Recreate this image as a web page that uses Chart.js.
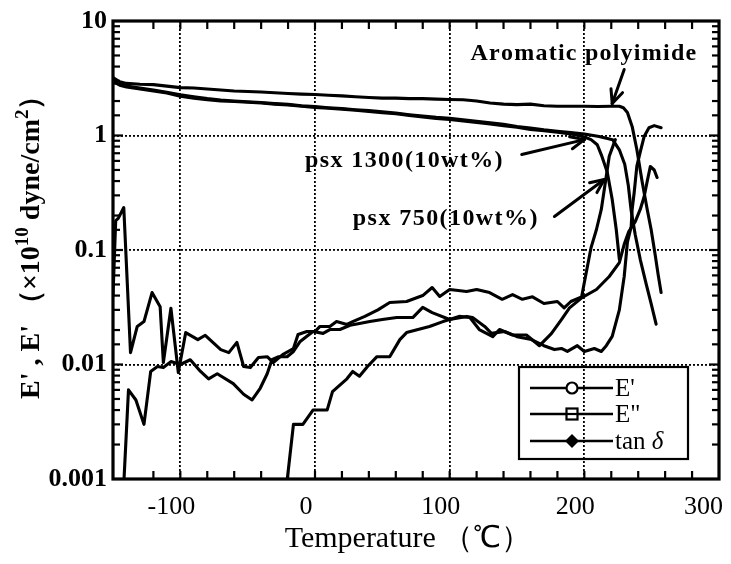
<!DOCTYPE html>
<html><head><meta charset="utf-8">
<script src="https://cdn.jsdelivr.net/npm/chart.js@4.4.0/dist/chart.umd.min.js"></script>
<style>html,body{margin:0;padding:0;background:#fff;}#wrap{width:731px;height:564px;}</style>
</head><body><div id="wrap"><canvas id="c" width="731" height="564"></canvas></div>
<script>
// ---- data (temperature in °C, modulus in 1e10 dyne/cm2) ----
const eStorAromT = [-150,-145,-140,-130,-120,-110,-100,-90,-80,-70,-60,-50,-40,-30,-20,-10,0,10,20,30,40,50,60,70,80,90,100,110,120,130,140,150,160,170,180,190,200,210,220,226,229,232,235.5,239,243,246.7,249.6,252.6,254.8,257];
const eStorArom  = [3.2,2.95,2.85,2.8,2.78,2.7,2.62,2.6,2.55,2.5,2.45,2.42,2.4,2.36,2.33,2.3,2.28,2.25,2.22,2.18,2.15,2.12,2.12,2.1,2.1,2.08,2.06,2.05,2.0,1.92,1.88,1.86,1.88,1.82,1.8,1.8,1.8,1.79,1.8,1.8,1.75,1.59,1.2,0.755,0.39,0.226,0.151,0.091,0.061,0.0425];

const eStor1300T = [-150,-145,-140,-130,-120,-110,-100,-90,-80,-70,-60,-50,-40,-30,-20,-10,0,10,20,30,40,50,60,70,80,90,100,110,120,130,140,150,160,170,180,190,196,201,205,209.6,213,217,220.7,223.7,226];
const eStor1300  = [3.0,2.75,2.65,2.55,2.45,2.35,2.2,2.12,2.05,2.0,1.98,1.95,1.92,1.88,1.85,1.8,1.76,1.73,1.7,1.66,1.62,1.58,1.55,1.5,1.45,1.41,1.38,1.34,1.3,1.26,1.22,1.18,1.13,1.1,1.07,1.03,1.0,0.96,0.92,0.83,0.66,0.48,0.276,0.151,0.083];

const eStor750T = [-150,-145,-140,-130,-120,-110,-100,-90,-80,-70,-60,-50,-40,-30,-20,-10,0,10,20,30,40,50,60,70,80,90,100,110,120,130,140,150,160,170,180,190,200,211,221,226,230,232.6,234.8,237.8,241.5,246,249.6,253.3];
const eStor750  = [2.9,2.8,2.7,2.6,2.5,2.38,2.27,2.18,2.1,2.04,2.0,1.97,1.94,1.9,1.87,1.82,1.79,1.75,1.72,1.68,1.65,1.61,1.57,1.52,1.48,1.44,1.41,1.37,1.33,1.29,1.25,1.2,1.16,1.12,1.09,1.06,1.03,0.98,0.92,0.75,0.56,0.37,0.22,0.136,0.083,0.05,0.034,0.0225];

const eLossPsxT = [-150,-148,-146,-142,-137,-132,-127,-121,-115,-112.6,-107,-101.5,-96,-87,-81.5,-70,-64,-58,-53,-48,-42,-35.5,-31,-24,-16,-12.6,-6,0,3.7,11,16,23.7,28,37,46.7,55.5,68,80,87,92.6,100,112.6,120,129.6,139,146.7,154,161.5,170,180,185,190,198,200,205,209,212.6,218.5,223];
const eLossPsx  = [0.04,0.18,0.19,0.235,0.0127,0.0215,0.0237,0.0425,0.032,0.0104,0.031,0.0085,0.019,0.0165,0.018,0.0135,0.0127,0.0156,0.0096,0.0094,0.0115,0.0117,0.0104,0.0122,0.0138,0.0183,0.0194,0.0194,0.0215,0.0215,0.0237,0.0224,0.0237,0.0263,0.030,0.0348,0.0355,0.040,0.047,0.0393,0.0452,0.0434,0.0452,0.0425,0.0371,0.0408,0.0371,0.039,0.0341,0.0355,0.0312,0.0355,0.039,0.052,0.105,0.151,0.226,0.658,0.92];

const tanPsxT = [-142,-138.5,-133,-127,-122,-117,-112.6,-107,-100,-92.6,-85,-79,-72.6,-60.7,-53,-46.7,-40.7,-35.5,-32,-27,-20.7,-16,-11,-1.5,6,11,18.5,26,33,40.7,50,60.7,72.6,80,87,100,107,115,122,132,137,146.7,157,166.7,175.5,183,189,198.5,209,218.5,226,229.6,233,237.8,241.5,244.4,246.7,249,251.9,254];
const tanPsx  = [0.0009,0.006,0.0049,0.003,0.0087,0.0096,0.0094,0.0106,0.01,0.011,0.0087,0.0075,0.0083,0.0068,0.0055,0.0049,0.0062,0.0083,0.011,0.0117,0.0117,0.013,0.0159,0.0194,0.0187,0.0202,0.0202,0.022,0.0228,0.0237,0.0247,0.0257,0.0257,0.0315,0.0284,0.0247,0.0263,0.0257,0.0202,0.0175,0.0202,0.0181,0.0181,0.0146,0.0186,0.0247,0.0312,0.0386,0.0452,0.0587,0.0775,0.112,0.145,0.177,0.226,0.292,0.398,0.536,0.5,0.43];

const tanAromT = [-21,-16,-9,-1.5,9,13,23.7,28,33,39,46,55.5,63,68,85,95,100,112.6,117,126,131,140.7,150,160.7,170,177.8,183,187.4,194.8,200,207.4,212.6,216.3,220.7,226,229.6,232,234.8,235.5,237,239,242,244.4,248,251.9,257];
const tanArom  = [0.0009,0.003,0.003,0.004,0.004,0.0058,0.0075,0.0087,0.0079,0.0096,0.0117,0.0117,0.0165,0.019,0.0215,0.0237,0.0247,0.0263,0.0257,0.0215,0.0187,0.0194,0.0175,0.0165,0.0146,0.0135,0.0138,0.013,0.0146,0.013,0.0138,0.013,0.0146,0.0176,0.03,0.0587,0.117,0.16,0.226,0.316,0.54,0.755,0.98,1.17,1.22,1.17];

const xLabelValues = [-100,0,100,200,300];
const yTickLabels = ["0.001","0.01","0.1","1","10"];
const legendLabels = ["E'", "E\"", "tan "];
const annLabels = ["Aromatic polyimide","psx 1300(10wt%)","psx 750(10wt%)"];

// ---- build ----
function pts(T,V){ return T.map((t,i)=>({x:t,y:V[i]})); }
const series = [
  ["E' aromatic", eStorAromT, eStorArom],
  ["E' psx1300", eStor1300T, eStor1300],
  ["E' psx750", eStor750T, eStor750],
  ["E'' psx", eLossPsxT, eLossPsx],
  ["tan d psx", tanPsxT, tanPsx],
  ["tan d aromatic", tanAromT, tanArom]
];
const datasets = series.map(s=>({label:s[0],data:pts(s[1],s[2]),borderColor:'#000',borderWidth:3.1,pointRadius:0,tension:0,fill:false,borderJoinStyle:'round',borderCapStyle:'round'}));

const X_MIN=-150, X_MAX=300, Y_MIN=0.001, Y_MAX=10;
function isPow10(v){ const l=Math.log10(v); return Math.abs(l-Math.round(l))<1e-7; }

// annotation placement (data coordinates)
const annCfg = [
  {text:0, t0:115.5, t1:283, v:4.6,  tail:[229.6,3.77], tip:[220.7,1.9]},
  {text:1, t0:-7.4,  t1:139.3, v:0.536, tail:[153.5,0.683],  tip:[200,0.92]},
  {text:2, t0:28.1,  t1:165.2, v:0.164, tail:[177.8,0.196], tip:[214.8,0.413]}
];

function spaced(ctx,str,x,y,w){
  const chars=[...str]; let tot=0; const ws=chars.map(c=>{const m=ctx.measureText(c).width; tot+=m; return m;});
  const sp=chars.length>1?(w-tot)/(chars.length-1):0; let cx=x;
  chars.forEach((c,i)=>{ctx.fillText(c,cx,y); cx+=ws[i]+sp;});
}
function line(ctx,x1,y1,x2,y2){ctx.beginPath();ctx.moveTo(x1,y1);ctx.lineTo(x2,y2);ctx.stroke();}
function arrow(ctx,x1,y1,x2,y2){
  line(ctx,x1,y1,x2,y2);
  const ang=Math.atan2(y2-y1,x2-x1), L=15, h=0.42;
  line(ctx,x2,y2,x2-L*Math.cos(ang-h),y2-L*Math.sin(ang-h));
  line(ctx,x2,y2,x2-L*Math.cos(ang+h),y2-L*Math.sin(ang+h));
}

const decor = {
  id:'decor',
  afterDatasetsDraw(chart){
    const ctx=chart.ctx, a=chart.chartArea, x=chart.scales.x, y=chart.scales.y;
    ctx.save();
    ctx.strokeStyle='#000'; ctx.fillStyle='#000'; ctx.lineCap='butt';
    // inward ticks
    ctx.lineWidth=2.2;
    x.ticks.forEach(t=>{ if(t.value<=X_MIN||t.value>=X_MAX) return; const px=x.getPixelForValue(t.value);
      line(ctx,px,a.bottom,px,a.bottom-8); line(ctx,px,a.top,px,a.top+8); });
    y.ticks.forEach(t=>{ if(t.value<=Y_MIN*1.0001||t.value>=Y_MAX*0.9999) return; const py=y.getPixelForValue(t.value);
      const len=isPow10(t.value)?10:7;
      line(ctx,a.left,py,a.left+len,py); line(ctx,a.right,py,a.right-len,py); });
    // frame
    ctx.lineWidth=3.2; ctx.strokeRect(a.left,a.top,a.right-a.left,a.bottom-a.top);
    // annotations
    ctx.font='bold 24px "Liberation Serif", "Times New Roman", serif'; ctx.textBaseline='alphabetic';
    ctx.lineWidth=3; ctx.lineCap='round';
    annCfg.forEach(c=>{
      const x0=x.getPixelForValue(c.t0), x1=x.getPixelForValue(c.t1), yy=y.getPixelForValue(c.v);
      spaced(ctx,annLabels[c.text],x0,yy,x1-x0);
      arrow(ctx,x.getPixelForValue(c.tail[0]),y.getPixelForValue(c.tail[1]),x.getPixelForValue(c.tip[0]),y.getPixelForValue(c.tip[1]));
    });
    // legend
    const L=a.right-200, T=a.bottom-112, W=169, H=92;
    ctx.lineWidth=2.2; ctx.lineCap='butt'; ctx.strokeRect(L,T,W,H);
    const rows=[T+21,T+47,T+74];
    ctx.font='25px "Liberation Serif", "Times New Roman", serif'; ctx.textBaseline='middle';
    rows.forEach((ry,i)=>{
      ctx.lineWidth=2.6; line(ctx,L+11,ry,L+94,ry);
      const mx=L+53;
      ctx.lineWidth=2.2;
      if(i===0){ ctx.beginPath(); ctx.arc(mx,ry,5.5,0,Math.PI*2); ctx.fillStyle='#fff'; ctx.fill(); ctx.stroke(); ctx.fillStyle='#000'; }
      else if(i===1){ ctx.fillStyle='#fff'; ctx.fillRect(mx-5.5,ry-5.5,11,11); ctx.fillStyle='#000'; ctx.strokeRect(mx-5.5,ry-5.5,11,11); line(ctx,mx-5.5,ry,mx+5.5,ry);}
      else { ctx.beginPath(); ctx.moveTo(mx,ry-7); ctx.lineTo(mx+7,ry); ctx.lineTo(mx,ry+7); ctx.lineTo(mx-7,ry); ctx.closePath(); ctx.fill(); }
      ctx.fillText(legendLabels[i],L+96,ry+1);
      if(i===2){ const w=ctx.measureText(legendLabels[i]).width; ctx.font='italic 25px "Liberation Serif", serif'; ctx.fillText('\u03b4',L+96+w,ry+1); ctx.font='25px "Liberation Serif", "Times New Roman", serif'; }
    });
    ctx.restore();
  },
  afterDraw(chart){
    const ctx=chart.ctx, a=chart.chartArea;
    ctx.save(); ctx.fillStyle='#000';
    // x title
    ctx.font='30px "Liberation Serif", "Times New Roman", serif'; ctx.textBaseline='alphabetic'; ctx.textAlign='center';
    ctx.fillText('Temperature \uff08\u2103\uff09', (a.left+a.right)/2-8, 547);
    // y title (rotated)
    ctx.translate(32, a.bottom-80); ctx.rotate(-Math.PI/2);
    ctx.textAlign='left'; ctx.textBaseline='middle';
    const big='bold 28px "Liberation Serif", "Times New Roman", serif', sup='bold 19px "Liberation Serif", "Times New Roman", serif';
    const segs=[["E' , E' ",big,0],["\uff08\u00d710",big,0],["10",sup,-9],[" dyne/cm",big,0],["2",sup,-9],["\uff09",big,0]];
    let cx=0;
    segs.forEach(s=>{ ctx.font=s[1]; ctx.fillText(s[0],cx,s[2]); cx+=ctx.measureText(s[0]).width; });
    ctx.restore();
  }
};

new Chart(document.getElementById('c'),{
  type:'line',
  data:{datasets},
  options:{
    responsive:false, animation:false, devicePixelRatio:1,
    layout:{padding:{top:21,right:12,left:0,bottom:0}},
    plugins:{legend:{display:false},tooltip:{enabled:false}},
    scales:{
      x:{type:'linear',min:X_MIN,max:X_MAX,
        ticks:{stepSize:20,autoSkip:false,maxRotation:0,padding:13,labelOffset:-9,color:'#000',
          font:{family:'"Liberation Serif", "Times New Roman", serif',size:26},
          callback:(v)=> xLabelValues.includes(v) ? (v===300? '300  ' : String(v)) : ''},
        grid:{drawTicks:false,lineWidth:1.8,
          color:(c)=> (c.tick && xLabelValues.includes(c.tick.value) && c.tick.value>X_MIN && c.tick.value<X_MAX) ? '#000' : 'rgba(0,0,0,0)'},
        border:{display:false,dash:[2,2]},
        afterFit:(s)=>{s.height=85; s.paddingLeft=0; s.paddingRight=0;}
      },
      y:{type:'logarithmic',min:Y_MIN,max:Y_MAX,
        ticks:{autoSkip:false,padding:6,color:'#000',
          font:{family:'"Liberation Serif", "Times New Roman", serif',size:26,weight:'bold'},
          callback:(v)=>{ if(!isPow10(v)) return ''; const k=Math.round(Math.log10(v))+3; return yTickLabels[k]; }},
        grid:{drawTicks:false,lineWidth:1.8,
          color:(c)=> (c.tick && isPow10(c.tick.value) && c.tick.value>Y_MIN*1.01 && c.tick.value<Y_MAX*0.99) ? '#000' : 'rgba(0,0,0,0)'},
        border:{display:false,dash:[2,2]},
        afterFit:(s)=>{s.width=113; s.paddingTop=0; s.paddingBottom=0;}
      }
    }
  },
  plugins:[decor]
});
</script></body></html>
